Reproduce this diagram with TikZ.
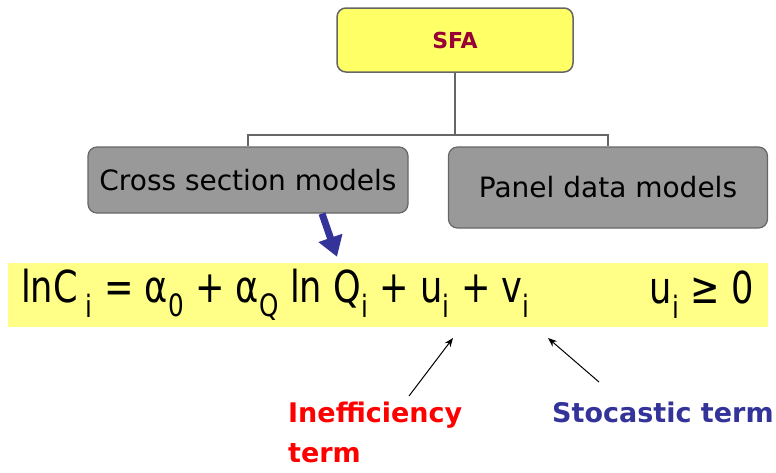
\documentclass[tikz,border=0pt]{standalone}
\usepackage{fontspec}
\setmainfont{DejaVu Sans}
\usetikzlibrary{positioning,arrows.meta}
\definecolor{sfared}{HTML}{990033}
\definecolor{sfayellow}{HTML}{FFFF66}
\definecolor{bandyellow}{HTML}{FFFF88}
\definecolor{boxgray}{HTML}{999999}
\definecolor{edgegray}{HTML}{666666}
\definecolor{navy}{HTML}{333399}

\begin{document}
\begin{tikzpicture}[x=1pt,y=-1pt,
  sfabox/.style={draw=edgegray, line width=1.5pt, fill=sfayellow, rounded corners=9pt,
    minimum width=236pt, minimum height=64pt, text=sfared, font=\bfseries\fontsize{22}{22}\selectfont},
  modelbox/.style={draw=edgegray, line width=1.2pt, fill=boxgray, rounded corners=9pt,
    font=\fontsize{28}{28}\selectfont},
  treeline/.style={draw=edgegray, line width=2pt},
  bluearrow/.style={navy, line width=7pt, -{Triangle[width=24pt,length=20pt]}},
  thinarrow/.style={black, line width=1pt, -{Stealth[length=9pt,width=7pt]}},
  eqtext/.style={inner sep=0pt, font=\fontsize{44}{44}\selectfont},
  termlabel/.style={font=\bfseries\fontsize{27}{40}\selectfont, align=left, anchor=north west, inner sep=0pt}]
\useasboundingbox (0,0) rectangle (776,472);

% top of the tree
\node[sfabox] (sfa) at (455,40) {SFA};
\node[modelbox, minimum width=320pt, minimum height=66pt] (cross) at (248,180) {Cross section models};
\node[modelbox, minimum width=319pt, minimum height=81pt] (panel) at (608,187.5) {Panel data models};
\coordinate (fork) at (455,135);
\draw[treeline] (sfa.south) -- (fork);
\draw[treeline] (cross.north) |- (fork) -| (panel.north);

% the cost frontier
\node[fill=bandyellow, minimum width=760pt, minimum height=64pt, inner sep=0pt] (band) at (388,295) {};
\node[eqtext, anchor=west] (eq) at (21,295)
  {\scalebox{0.8}[1]{lnC\textsubscript{ i} = α\textsubscript{0} + α\textsubscript{Q} ln Q\textsubscript{i} + u\textsubscript{i} + v\textsubscript{i}}};
\node[eqtext, anchor=east] (cond) at (754,295)
  {\scalebox{0.8}[1]{u\textsubscript{i} ≥ 0}};
\draw[bluearrow] ([xshift=74pt]cross.south) -- ([xshift=-51pt,yshift=6pt]band.north);

% error terms
\node[termlabel, text=red] (ineff) at (288,402) {Inefficiency\\term};
\node[termlabel, text=navy] (stoc) at (552,402) {Stocastic term};
\coordinate (ufrom) at (409,396);
\coordinate (uto) at (453,338);
\coordinate (vfrom) at (599,382);
\coordinate (vto) at (548,338);
\draw[thinarrow] (ufrom) -- (uto);
\draw[thinarrow] (vfrom) -- (vto);
\end{tikzpicture}
\end{document}
